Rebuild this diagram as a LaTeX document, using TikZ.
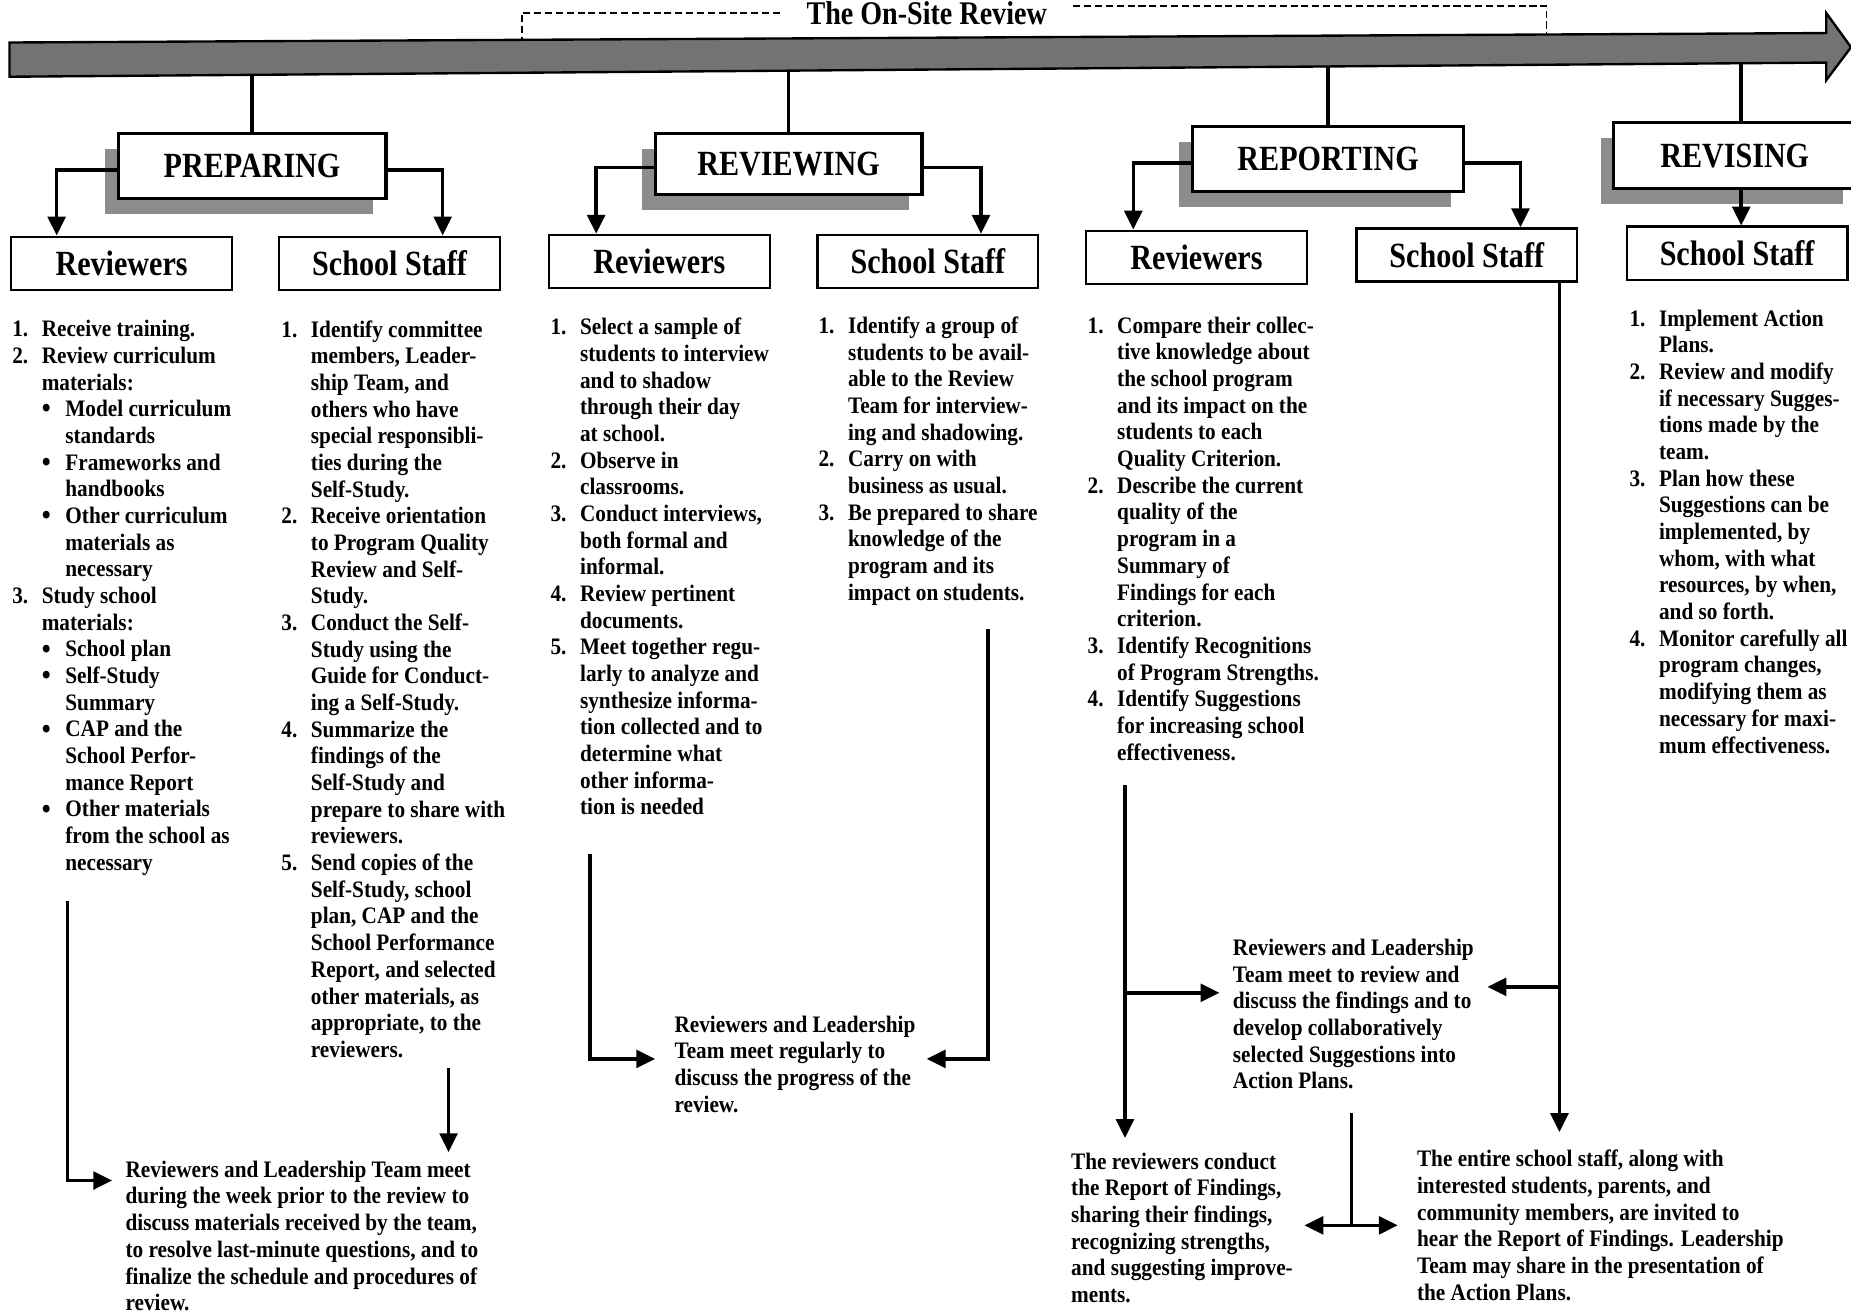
\documentclass[tikz,border=0pt]{standalone}
\usepackage{fontspec}
\setmainfont{Liberation Serif}[FakeStretch=0.9]
\newfontfamily\headfont{Liberation Serif}[FakeStretch=0.85]
\usetikzlibrary{arrows.meta,shadows}

% list helpers
\newcommand\itnum[1]{\makebox[12.5pt][l]{#1}}
\newcommand\itcont{\hspace*{12.5pt}}
\newcommand\itbul{\hspace*{12.5pt}\makebox[10pt][l]{\raisebox{-0.5pt}{\fontsize{12}{10}\selectfont\textbullet}}}
\newcommand\itbcont{\hspace*{22.5pt}}

\begin{document}
\begin{tikzpicture}[x=0.5pt,y=-0.5pt,
  bar/.style={draw,line width=1pt,fill=black!55},
  stage/.style={draw,line width=1.3pt,fill=white,inner sep=0pt,
    font=\headfont\bfseries\fontsize{15}{15}\selectfont,
    drop shadow={shadow xshift=-5.5pt,shadow yshift=-6.5pt,fill=black!45,opacity=1}},
  group/.style={draw,line width=1pt,fill=white,inner sep=0pt,minimum width=93.5pt,minimum height=22.5pt,
    font=\headfont\bfseries\fontsize{15}{15}\selectfont},
  item/.style={anchor=north west,inner sep=0pt,align=left,font=\bfseries\fontsize{10}{11.3}\selectfont},
  link/.style={line width=1.5pt,-{Triangle[length=8pt,width=7.5pt]}},
  twin/.style={line width=1.5pt,{Triangle[length=8pt,width=7.5pt]}-{Triangle[length=8pt,width=7.5pt]}},
  onsite/.style={line width=0.7pt,dash pattern=on 3pt off 1.6pt}]
  \useasboundingbox (0,0) rectangle (1568,1114);

  % time bar and on-site bracket
  \draw[bar] (8,36) -- (1547,28) -- (1547,11) -- (1568,40) -- (1547,68) -- (1547,53) -- (8,65) -- cycle;
  \node[font=\headfont\bfseries\fontsize{14}{14}\selectfont,inner sep=0pt] (title) at (785,11) {The On-Site Review};
  \coordinate (sitebeg) at (442,33);
  \coordinate (siteend) at (1310,29);
  \draw[onsite] ([xshift=-11pt]title.west) -| (sitebeg);
  \draw[onsite] ([xshift=11pt,yshift=3pt]title.east) -| (siteend);

  % stages
  \node[stage,minimum width=113.5pt,minimum height=27.5pt] (prep) at (213.5,140.5) {PREPARING};
  \node[stage,minimum width=113pt,minimum height=26pt] (rev) at (668,139) {REVIEWING};
  \node[stage,minimum width=115pt,minimum height=27.5pt] (rep) at (1125,134.5) {REPORTING};
  \node[stage,minimum width=102.5pt,minimum height=28pt] (revi) at (1469.5,132) {REVISING};
  \draw[line width=1.5pt] (prep.north |- 0,63) -- (prep.north);
  \draw[line width=1.5pt] (rev.north |- 0,60) -- (rev.north);
  \draw[line width=1.5pt] (rep.north |- 0,56) -- (rep.north);
  \draw[line width=1.5pt] (revi.north -| 1475,0) -- (1475,53);

  % who does it
  \node[group] (rv1) at (103,223) {Reviewers};
  \node[group] (ss1) at (330,223) {School Staff};
  \node[group] (rv2) at (558.5,221.5) {Reviewers};
  \node[group] (ss2) at (786,221.5) {School Staff};
  \node[group] (rv3) at (1013.5,218) {Reviewers};
  \node[group] (ss3) at (1242.5,216) {School Staff};
  \node[group] (ss4) at (1471.5,214.5) {School Staff};
  \draw[link] (prep.west |- 0,144) -| ([xshift=-27.5pt]rv1.north);
  \draw[link] (prep.east |- 0,144) -| ([xshift=22.5pt]ss1.north);
  \draw[link] (rev.west |- 0,142) -| ([xshift=-26.75pt]rv2.north);
  \draw[link] (rev.east |- 0,142) -| ([xshift=22.5pt]ss2.north);
  \draw[link] (rep.west |- 0,138) -| ([xshift=-26.75pt]rv3.north);
  \draw[link] (rep.east |- 0,138) -| ([xshift=22.75pt]ss3.north);
  \draw[link] (revi.south -| 1475,0) -- (ss4.north -| 1475,0);

  % task lists
  \node[item] (t1) at (10,271) {\itnum{1.}Receive training.\\
    \itnum{2.}Review curriculum\\ \itcont materials:\\
    \itbul Model curriculum\\ \itbcont standards\\
    \itbul Frameworks and\\ \itbcont handbooks\\
    \itbul Other curriculum\\ \itbcont materials as\\ \itbcont necessary\\
    \itnum{3.}Study school\\ \itcont materials:\\
    \itbul School plan\\
    \itbul Self-Study\\ \itbcont Summary\\
    \itbul CAP and the\\ \itbcont School Perfor-\\ \itbcont mance Report\\
    \itbul Other materials\\ \itbcont from the school as\\ \itbcont necessary};
  \node[item] (t2) at (238,271) {\itnum{1.}Identify committee\\ \itcont members, Leader-\\
    \itcont ship Team, and\\ \itcont others who have\\ \itcont special responsibli-\\
    \itcont ties during the\\ \itcont Self-Study.\\
    \itnum{2.}Receive orientation\\ \itcont to Program Quality\\ \itcont Review and Self-\\ \itcont Study.\\
    \itnum{3.}Conduct the Self-\\ \itcont Study using the\\ \itcont Guide for Conduct-\\ \itcont ing a Self-Study.\\
    \itnum{4.}Summarize the\\ \itcont findings of the\\ \itcont Self-Study and\\
    \itcont prepare to share with\\ \itcont reviewers.\\
    \itnum{5.}Send copies of the\\ \itcont Self-Study, school\\ \itcont plan, CAP and the\\
    \itcont School Performance\\ \itcont Report, and selected\\ \itcont other materials, as\\
    \itcont appropriate, to the\\ \itcont reviewers.};
  \node[item] (t3) at (466,269) {\itnum{1.}Select a sample of\\ \itcont students to interview\\
    \itcont and to shadow\\ \itcont through their day\\ \itcont at school.\\
    \itnum{2.}Observe in\\ \itcont classrooms.\\
    \itnum{3.}Conduct interviews,\\ \itcont both formal and\\ \itcont informal.\\
    \itnum{4.}Review pertinent\\ \itcont documents.\\
    \itnum{5.}Meet together regu-\\ \itcont larly to analyze and\\ \itcont synthesize informa-\\
    \itcont tion collected and to\\ \itcont determine what\\ \itcont other informa-\\ \itcont tion is needed};
  \node[item] (t4) at (693,268) {\itnum{1.}Identify a group of\\ \itcont students to be avail-\\
    \itcont able to the Review\\ \itcont Team for interview-\\ \itcont ing and shadowing.\\
    \itnum{2.}Carry on with\\ \itcont business as usual.\\
    \itnum{3.}Be prepared to share\\ \itcont knowledge of the\\ \itcont program and its\\ \itcont impact on students.};
  \node[item] (t5) at (921,268) {\itnum{1.}Compare their collec-\\ \itcont tive knowledge about\\
    \itcont the school program\\ \itcont and its impact on the\\ \itcont students to each\\ \itcont Quality Criterion.\\
    \itnum{2.}Describe the current\\ \itcont quality of the\\ \itcont program in a\\ \itcont Summary of\\
    \itcont Findings for each\\ \itcont criterion.\\
    \itnum{3.}Identify Recognitions\\ \itcont of Program Strengths.\\
    \itnum{4.}Identify Suggestions\\ \itcont for increasing school\\ \itcont effectiveness.};
  \node[item] (t6) at (1380,262) {\itnum{1.}Implement Action\\ \itcont Plans.\\
    \itnum{2.}Review and modify\\ \itcont if necessary Sugges-\\ \itcont tions made by the\\ \itcont team.\\
    \itnum{3.}Plan how these\\ \itcont Suggestions can be\\ \itcont implemented, by\\ \itcont whom, with what\\
    \itcont resources, by when,\\ \itcont and so forth.\\
    \itnum{4.}Monitor carefully all\\ \itcont program changes,\\ \itcont modifying them as\\
    \itcont necessary for maxi-\\ \itcont mum effectiveness.};

  % meetings and reports
  \node[item] (nA) at (106,983) {Reviewers and Leadership Team meet\\during the week prior to the review to\\
    discuss materials received by the team,\\to resolve last-minute questions, and to\\
    finalize the schedule and procedures of\\review.};
  \node[item] (nB) at (571,860) {Reviewers and Leadership\\Team meet regularly to\\discuss the progress of the\\review.};
  \node[item] (nC) at (1044,795) {Reviewers and Leadership\\Team meet to review and\\discuss the findings and to\\
    develop collaboratively\\selected Suggestions into\\Action Plans.};
  \node[item] (nD) at (907,976) {The reviewers conduct\\the Report of Findings,\\sharing their findings,\\
    recognizing strengths,\\and suggesting improve-\\ments.};
  \node[item] (nE) at (1200,974) {The entire school staff, along with\\interested students, parents, and\\
    community members, are invited to\\hear the Report of Findings. Leadership\\
    Team may share in the presentation of\\the Action Plans.};

  \coordinate (a1) at (57,763);
  \coordinate (a2) at (380,905);
  \draw[link] (a1) |- ([xshift=-5.5pt,yshift=-8.5pt]nA.north west);
  \draw[link,shorten >=3.5pt] (a2) -- (a2 |- nA.north);
  \coordinate (b1) at (500,723);
  \coordinate (b2) at (837,533);
  \draw[link] (b1) |- ([xshift=-8pt,yshift=-18.5pt]nB.north west);
  \draw[link] (b2) |- ([xshift=107pt,yshift=-18.5pt]nB.north west);
  \coordinate (c1) at (953,665);
  \draw[link,shorten >=6pt] (c1) -- (c1 |- nD.north);
  \draw[link] (c1 |- 0,841) -- ([xshift=-5.5pt,yshift=-23pt]nC.north west);
  \coordinate (s3out) at ([xshift=39.25pt]ss3.south);
  \draw[link,shorten >=7.5pt] (s3out) -- (s3out |- nE.north);
  \draw[link] (s3out |- 0,836) -- ([xshift=108pt,yshift=-20.5pt]nC.north west);
  \coordinate (c2) at (1145,943);
  \coordinate (c3) at (1145,1038);
  \draw[line width=1.5pt] (c2) -- (c3);
  \draw[twin] ([xshift=-20pt]c3) -- ([xshift=19.5pt]c3);
\end{tikzpicture}
\end{document}
